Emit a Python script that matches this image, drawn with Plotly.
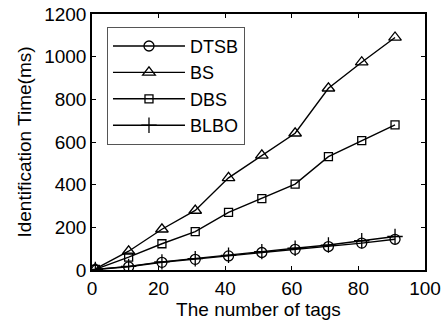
import plotly.graph_objects as go

tags = [1, 11, 21, 31, 41, 51, 61, 71, 81, 91]
dtsb = [2, 15, 36, 50, 66, 82, 97, 110, 126, 144]
bs = [5, 88, 191, 279, 432, 537, 641, 852, 974, 1090]
dbs = [3, 60, 123, 180, 270, 335, 403, 531, 606, 680]
blbo = [3, 17, 38, 53, 69, 86, 102, 117, 137, 157]

series = [
    ("DTSB", dtsb, "circle-open", 10),
    ("BS", bs, "triangle-up-open", 11),
    ("DBS", dbs, "square-open", 8),
    ("BLBO", blbo, "cross-thin-open", 11),
]

fig = go.Figure()
for name, vals, sym, sz in series:
    fig.add_trace(go.Scatter(
        x=tags, y=vals, name=name, mode="lines+markers",
        line=dict(color="black", width=1.4),
        marker=dict(symbol=sym, size=sz, color="black",
                    line=dict(color="black", width=1.3)),
    ))

axis_common = dict(
    showline=True, linecolor="black", linewidth=1.5, mirror="ticks",
    ticks="inside", ticklen=4, tickcolor="black", tickwidth=1,
    showgrid=False, zeroline=False, automargin=False,
    tickfont=dict(size=19, color="black"),
)
fig.update_xaxes(range=[0, 100], dtick=20, **axis_common,
                 title=dict(text="The number of tags", font=dict(size=19, color="black"), standoff=4))
fig.update_yaxes(range=[0, 1200], dtick=200, **axis_common,
                 title=dict(text="Identification Time(ms)", font=dict(size=19, color="black"), standoff=8))

fig.update_layout(
    width=444, height=324,
    margin=dict(l=92, r=19, t=14, b=54),
    paper_bgcolor="white", plot_bgcolor="white",
    font=dict(family="Liberation Sans, Arial, sans-serif", color="black"),
    legend=dict(x=0.045, y=0.95, xanchor="left", yanchor="top",
                bgcolor="white", bordercolor="#555", borderwidth=1,
                font=dict(size=18, color="black"), itemwidth=72,
                tracegroupgap=0),
    showlegend=True,
)
fig.write_html("out.html")
